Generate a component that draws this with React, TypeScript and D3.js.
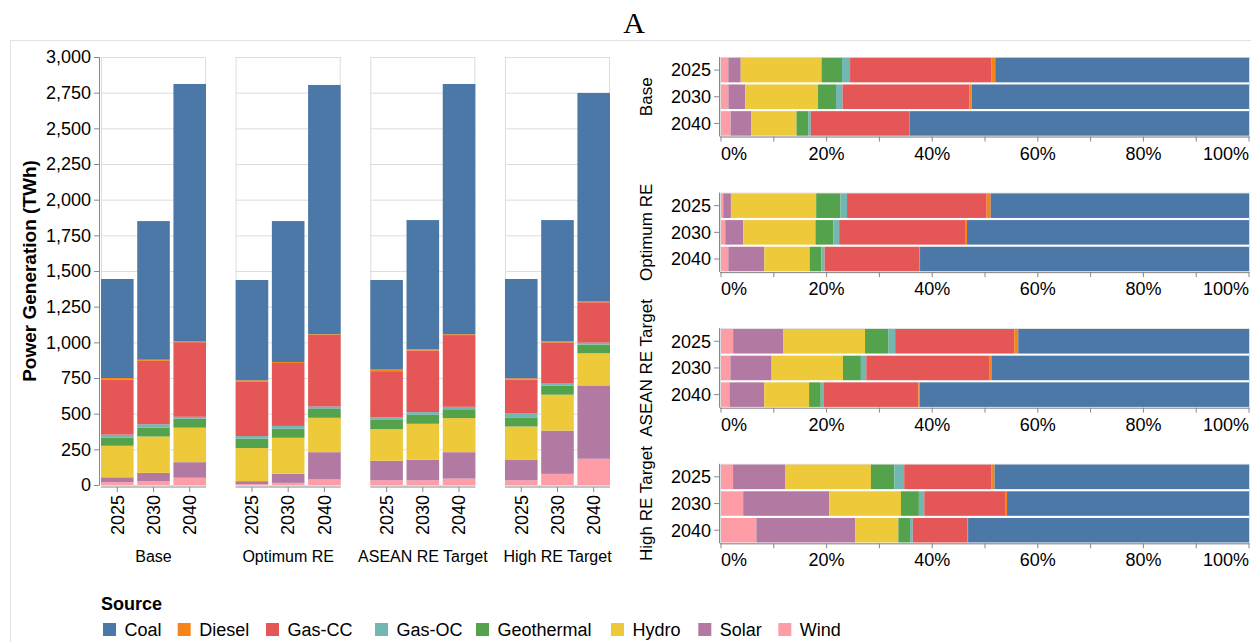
import React, { useMemo } from "react";
import * as d3 from "d3";

// ---------- data ----------
const scenarios = ["Base", "Optimum RE", "ASEAN RE Target", "High RE Target"];
const years = ["2025", "2030", "2040"];
const sources = ["Coal", "Diesel", "Gas-CC", "Gas-OC", "Geothermal", "Hydro", "Solar", "Wind"];
const sourceColors = ["#4c78a8", "#f58518", "#e45756", "#72b7b2", "#54a24b", "#eeca3b", "#b279a2", "#ff9da6"];

// TWh, ordered scenario x year (Base 2025, 2030, 2040, Optimum RE 2025, ...)
const coal = [694, 972, 1805, 703, 988, 1747, 628, 906, 1754, 696, 851, 1462];
const diesel = [10, 8, 5, 11, 7, 5, 11, 8, 6, 9, 7, 5];
const gasCC = [387, 444, 523, 380, 441, 502, 324, 432, 503, 238, 284, 283];
const gasOC = [22, 23, 14, 18, 20, 17, 18, 19, 17, 27, 19, 14];
const geothermal = [56, 63, 62, 66, 63, 62, 64, 63, 62, 64, 63, 61];
const hydro = [221, 255, 242, 232, 253, 241, 222, 251, 239, 235, 252, 225];
const solar = [34, 59, 109, 21, 63, 191, 137, 145, 185, 142, 303, 514];
const wind = [20, 26, 51, 6, 15, 39, 33, 33, 45, 33, 78, 184];

const yTicks = [0, 250, 500, 750, 1000, 1250, 1500, 1750, 2000, 2250, 2500, 2750, 3000];
const pctTicks = [0, 0.1, 0.2, 0.3, 0.4, 0.5, 0.6, 0.7, 0.8, 0.9, 1];
const pctLabels = [0, 0.2, 0.4, 0.6, 0.8, 1];

const seriesBySource: Record<string, number[]> = {
  Coal: coal,
  Diesel: diesel,
  "Gas-CC": gasCC,
  "Gas-OC": gasOC,
  Geothermal: geothermal,
  Hydro: hydro,
  Solar: solar,
  Wind: wind,
};

// legend entry left edges (layout)
const legendX = [103, 177.7, 266, 375, 476, 611, 698.3, 778.3];

const FONT = "'Liberation Sans', Arial, Helvetica, sans-serif";

type Row = { scenario: string; year: string; [k: string]: any };

export default function App() {
  const rows: Row[] = useMemo(() => {
    const out: Row[] = [];
    scenarios.forEach((s, i) =>
      years.forEach((yr, j) => {
        const k = i * years.length + j;
        const r: Row = { scenario: s, year: yr };
        sources.forEach((src) => (r[src] = seriesBySource[src][k]));
        out.push(r);
      })
    );
    return out;
  }, []);

  const stackKeys = [...sources].reverse(); // Wind at bottom/left ... Coal at top/right
  const color = d3.scaleOrdinal<string, string>().domain(sources).range(sourceColors);

  const stacked = d3.stack<Row>().keys(stackKeys)(rows);
  const normalized = d3.stack<Row>().keys(stackKeys).offset(d3.stackOffsetExpand)(rows);

  // ---------- left chart scales ----------
  const fx = d3.scaleBand<string>().domain(scenarios).range([101, 610]).paddingInner(0.22);
  const bx = d3.scaleBand<string>().domain(years).range([0, fx.bandwidth()]).paddingInner(0.1).paddingOuter(0);
  const y = d3.scaleLinear().domain([0, 3000]).range([485, 57]);
  const fmt = d3.format(",");

  // ---------- right chart scales ----------
  const panelH = 79.5;
  const fy = d3.scaleBand<string>().domain(scenarios).range([57, 57 + 135.6 * 3 + panelH]).paddingInner(1 - panelH / 135.6);
  const by = d3.scaleBand<string>().domain(years).range([0, panelH]).paddingInner(0.08).paddingOuter(0.03);
  const px = d3.scaleLinear().domain([0, 1]).range([721, 1249]);
  const pfmt = d3.format(".0%");

  return (
    <div style={{ position: "absolute", left: 0, top: 0 }}>
      <svg width={1251} height={642} style={{ display: "block", background: "#fff" }} fontFamily={FONT}>
        {/* frame */}
        <line x1={10} x2={1251} y1={40.5} y2={40.5} stroke="#e3e3e3" />
        <line x1={10.5} x2={10.5} y1={40} y2={642} stroke="#e3e3e3" />
        <text x={634} y={33} textAnchor="middle" fontFamily="'Liberation Serif', 'Times New Roman', serif" fontSize={30}>
          A
        </text>

        {/* ---------- left: stacked bars ---------- */}
        <text transform={`translate(36,271) rotate(-90)`} textAnchor="middle" fontWeight="bold" fontSize={19}>
          Power Generation (TWh)
        </text>
        {/* y axis */}
        <line x1={99.5} x2={99.5} y1={y(3000)} y2={y(0)} stroke="#888" />
        {yTicks.map((t) => (
          <g key={t}>
            <line x1={94} x2={99.5} y1={y(t) + 0.5} y2={y(t) + 0.5} stroke="#888" />
            <text x={91} y={y(t)} dy="0.35em" textAnchor="end" fontSize={18}>
              {fmt(t)}
            </text>
          </g>
        ))}
        {scenarios.map((s) => {
          const x0 = fx(s)!;
          const w = fx.bandwidth();
          return (
            <g key={s}>
              {yTicks.map((t) => (
                <line key={t} x1={x0} x2={x0 + w} y1={y(t) + 0.5} y2={y(t) + 0.5} stroke="#ddd" />
              ))}
              <rect x={x0 + 0.5} y={y(3000) + 0.5} width={w - 1} height={y(0) - y(3000)} fill="none" stroke="#ddd" />
              {stacked.map((layer) =>
                layer
                  .filter((d) => d.data.scenario === s)
                  .map((d) => (
                    <rect
                      key={layer.key + d.data.year}
                      x={x0 + bx(d.data.year)!}
                      width={bx.bandwidth()}
                      y={y(d[1])}
                      height={y(d[0]) - y(d[1])}
                      fill={color(layer.key)}
                    />
                  ))
              )}
              {/* x axis */}
              <line x1={x0} x2={x0 + w} y1={487} y2={487} stroke="#888" />
              {years.map((yr) => {
                const cx = x0 + bx(yr)! + bx.bandwidth() / 2;
                return (
                  <g key={yr}>
                    <line x1={cx} x2={cx} y1={487} y2={492} stroke="#888" />
                    <text transform={`translate(${cx},${495}) rotate(-90)`} textAnchor="end" dy="0.35em" fontSize={18}>
                      {yr}
                    </text>
                  </g>
                );
              })}
              <text x={x0 + w / 2} y={562} textAnchor="middle" fontSize={16}>
                {s}
              </text>
            </g>
          );
        })}

        {/* ---------- right: normalized horizontal bars ---------- */}
        {scenarios.map((s) => {
          const y0 = fy(s)!;
          const h = fy.bandwidth();
          return (
            <g key={s}>
              <rect x={720.5} y={y0 + 0.5} width={px(1) - 720} height={h} fill="none" stroke="#ddd" />
              {normalized.map((layer) =>
                layer
                  .filter((d) => d.data.scenario === s)
                  .map((d) => (
                    <rect
                      key={layer.key + d.data.year}
                      x={px(d[0])}
                      width={px(d[1]) - px(d[0])}
                      y={y0 + by(d.data.year)!}
                      height={by.bandwidth()}
                      fill={color(layer.key)}
                    />
                  ))
              )}
              {/* y axis */}
              <line x1={719.5} x2={719.5} y1={y0} y2={y0 + h} stroke="#888" />
              {years.map((yr) => {
                const cy = y0 + by(yr)! + by.bandwidth() / 2;
                return (
                  <g key={yr}>
                    <line x1={714} x2={719.5} y1={cy} y2={cy} stroke="#888" />
                    <text x={711} y={cy} dy="0.35em" textAnchor="end" fontSize={18}>
                      {yr}
                    </text>
                  </g>
                );
              })}
              {/* x axis */}
              <line x1={px(0) - 1} x2={px(1)} y1={y0 + h + 0.5} y2={y0 + h + 0.5} stroke="#888" />
              {pctTicks.map((t) => (
                <line key={t} x1={px(t)} x2={px(t)} y1={y0 + h} y2={y0 + h + 5} stroke="#888" />
              ))}
              {pctLabels.map((t, i) => (
                <text
                  key={t}
                  x={px(t)}
                  y={y0 + h + 23}
                  textAnchor={i === 0 ? "start" : i === pctLabels.length - 1 ? "end" : "middle"}
                  fontSize={18}
                >
                  {pfmt(t)}
                </text>
              ))}
              <text transform={`translate(652,${y0 + h / 2}) rotate(-90)`} textAnchor="middle" fontSize={17}>
                {s}
              </text>
            </g>
          );
        })}

        {/* ---------- legend ---------- */}
        <text x={101} y={610} fontWeight="bold" fontSize={18}>
          Source
        </text>
        {sources.map((s, i) => (
          <g key={s}>
            <rect x={legendX[i]} y={623} width={13} height={13} fill={color(s)} />
            <text x={legendX[i] + 21.5} y={636} fontSize={18}>
              {s}
            </text>
          </g>
        ))}
      </svg>
    </div>
  );
}
